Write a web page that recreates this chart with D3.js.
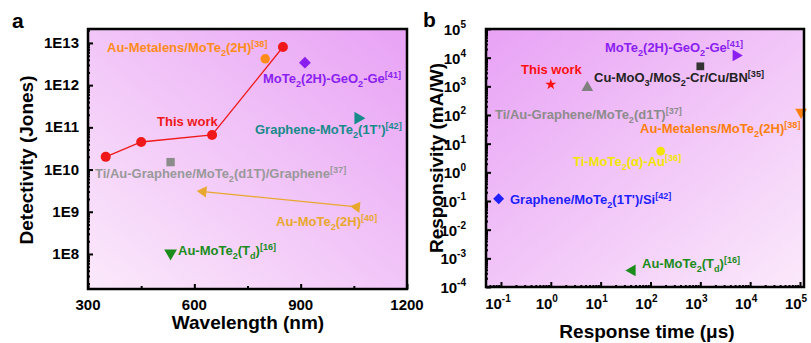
<!DOCTYPE html>
<html>
<head>
<meta charset="utf-8">
<script src="https://cdn.jsdelivr.net/npm/d3@7"></script>
<style>
  body { margin: 0; background: #fff; }
  text { font-family: 'Liberation Sans', Arial, sans-serif; font-weight: bold; }
</style>
</head>
<body>
<svg id="chart" width="811" height="343"></svg>
<script>
'use strict'

// ---- panel a data: detectivity vs wavelength ----
const thisWorkWavelength = [350, 450, 650, 850]
const thisWorkDetectivity = [2e10, 4.5e10, 6.6e10, 8e12]

const refsA = [
  { name: 'Au-Metalens/MoTe_{2}(2H)^{[38]}', wl: 800, det: 4.2e12 },
  { name: 'MoTe_{2}(2H)-GeO_{2}-Ge^{[41]}', wl: 912, det: 3.4e12 },
  { name: 'Graphene-MoTe_{2}(1T’)^{[42]}', wl: 1062, det: 1.65e11 },
  { name: 'Ti/Au-Graphene/MoTe_{2}(d1T)/Graphene^{[37]}', wl: 533, det: 1.5e10 },
  { name: 'Au-MoTe_{2}(T_{d})^{[16]}', wl: 533, det: 1.05e8 }
]
// Au-MoTe2(2H) range, drawn as an arrow
const au2hWavelength = [1058, 625]
const au2hDetectivity = [1.3e9, 3e9]
const au2hName = 'Au-MoTe_{2}(2H)^{[40]}'

const yTicksA = [1e8, 1e9, 1e10, 1e11, 1e12, 1e13]
const xTicksA = [300, 600, 900, 1200]

// ---- panel b data: responsivity vs response time ----
const refsB = [
  { name: 'This work', t: 1.0, r: 1.15e3 },
  { name: 'Ti/Au-Graphene/MoTe_{2}(d1T)^{[37]}', t: 5.4, r: 900 },
  { name: 'Cu-MoO_{3}/MoS_{2}-Cr/Cu/BN^{[35]}', t: 1000, r: 5000 },
  { name: 'MoTe_{2}(2H)-GeO_{2}-Ge^{[41]}', t: 5200, r: 1.2e4 },
  { name: 'Au-Metalens/MoTe_{2}(2H)^{[38]}', t: 1.05e5, r: 125 },
  { name: 'Ti-MoTe_{2}(α)-Au^{[36]}', t: 160, r: 5.5 },
  { name: 'Graphene/MoTe_{2}(1T\')/Si^{[42]}', t: 0.09, r: 0.12 },
  { name: 'Au-MoTe_{2}(T_{d})^{[16]}', t: 43, r: 3.8e-4 }
]
const xTicksB = [-1, 0, 1, 2, 3, 4, 5]
const yTicksB = [-4, -3, -2, -1, 0, 1, 2, 3, 4, 5]

// ---- styling / layout (kept apart from the data) ----
const styleA = [
  { sym: 'circle', rot: 0, color: '#ff8c1a', lx: 107, ly: 52 },
  { sym: 'diamond', rot: 45, color: '#8a1ff0', lx: 263, ly: 83 },
  { sym: 'triangle', rot: 90, color: '#178a8a', lx: 255, ly: 134 },
  { sym: 'square', rot: 0, color: '#8c8c8c', lx: 95, ly: 178, textColor: '#999' },
  { sym: 'triangle', rot: 180, color: '#1a8c1a', lx: 178, ly: 255 }
]
const styleB = [
  { sym: 'star', rot: 0, color: '#ff1010', lx: 521, ly: 74, size: 38 },
  { sym: 'triangle', rot: 0, color: '#808080', lx: 495, ly: 119, textColor: '#8c8c8c' },
  { sym: 'square', rot: 0, color: '#333', lx: 594, ly: 82, textColor: '#222' },
  { sym: 'triangle', rot: 90, color: '#8a1ff0', lx: 605, ly: 52 },
  { sym: 'triangle', rot: 180, color: '#ff7f0e', lx: 640, ly: 133 },
  { sym: 'circle', rot: 0, color: '#f2e600', lx: 573, ly: 166 },
  { sym: 'diamond', rot: 45, color: '#1f1fff', lx: 510, ly: 204 },
  { sym: 'triangle', rot: -90, color: '#1a8c1a', lx: 642, ly: 268 }
]
const symbols = {
  circle: d3.symbolCircle, square: d3.symbolSquare,
  diamond: d3.symbolSquare, triangle: d3.symbolTriangle, star: d3.symbolStar
}

const svg = d3.select('#chart')

// text with _{sub} and ^{sup} markup
function rich (sel, str, size) {
  const parts = str.split(/(_\{[^}]*\}|\^\{[^}]*\})/).filter(s => s)
  let shift = 0
  parts.forEach(p => {
    let off = 0, fs = size, t = p
    if (p[0] === '_') { t = p.slice(2, -1); off = size * 0.3; fs = size * 0.7 }
    else if (p[0] === '^') { t = p.slice(2, -1); off = -size * 0.4; fs = size * 0.7 }
    sel.append('tspan').attr('dy', off - shift).attr('font-size', fs).text(t)
    shift = off
  })
}

function panelBg (id, x0, y0, x1, y1, dark, light) {
  const g = svg.append('defs').append('linearGradient').attr('id', id)
    .attr('x1', x0).attr('y1', y0).attr('x2', x1).attr('y2', y1)
    .attr('gradientUnits', 'objectBoundingBox')
  g.append('stop').attr('offset', 0).attr('stop-color', dark)
  g.append('stop').attr('offset', 1).attr('stop-color', light)
}
panelBg('bgA', 1, 0, 0, 1, '#e8a2f5', '#fbe9fb')
panelBg('bgB', 0, 0, 1, 1, '#e8a2f5', '#fbe9fb')

function marker (g, x, y, st, size) {
  g.append('path')
    .attr('d', d3.symbol(symbols[st.sym], st.size || size)())
    .attr('transform', `translate(${x},${y}) rotate(${st.rot})`)
    .attr('fill', st.color)
}

// ================= panel a =================
const ax = d3.scaleLinear().domain([300, 1200]).range([88, 407])
const ay = d3.scaleLog().domain([Math.pow(10, 7.17), Math.pow(10, 13.33)]).range([289, 29])

const ga = svg.append('g')
ga.append('rect').attr('x', 88).attr('y', 29).attr('width', 319).attr('height', 260)
  .attr('fill', 'url(#bgA)')

// minor log ticks
const minorA = []
for (let e = 7; e <= 13; e++) for (let m = 2; m <= 9; m++) {
  const v = m * Math.pow(10, e)
  if (v > ay.domain()[0] && v < ay.domain()[1]) minorA.push(v)
}
ga.append('g').attr('transform', 'translate(88,0)')
  .call(d3.axisRight(ay).tickValues(minorA).tickSize(2).tickFormat(''))
  .call(g => g.select('.domain').remove())
ga.append('g').attr('transform', 'translate(88,0)')
  .call(d3.axisRight(ay).tickValues(yTicksA).tickSize(5).tickFormat(''))
  .call(g => g.select('.domain').remove())
ga.append('g').attr('transform', 'translate(0,289)')
  .call(d3.axisTop(ax).tickValues([450, 750, 1050]).tickSize(3).tickFormat(''))
  .call(g => g.select('.domain').remove())
ga.append('g').attr('transform', 'translate(0,289)')
  .call(d3.axisTop(ax).tickValues(xTicksA).tickSize(5).tickFormat(''))
  .call(g => g.select('.domain').remove())
ga.selectAll('.tick line').attr('stroke', '#000').attr('stroke-width', 2)

ga.selectAll('.ylab').data(yTicksA).enter().append('text')
  .attr('x', 79).attr('y', d => ay(d) + 5).attr('text-anchor', 'end')
  .attr('font-size', 15).text(d => '1E' + Math.round(Math.log10(d)))
ga.selectAll('.xlab').data(xTicksA).enter().append('text')
  .attr('x', d => ax(d)).attr('y', 310).attr('text-anchor', 'middle')
  .attr('font-size', 15).text(d => d)

// this work line
const ptsA = thisWorkWavelength.map((w, i) => [ax(w), ay(thisWorkDetectivity[i])])
ga.append('path').attr('d', d3.line()(ptsA)).attr('fill', 'none')
  .attr('stroke', '#f01818').attr('stroke-width', 1.3)
ga.selectAll('.tw').data(ptsA).enter().append('circle')
  .attr('cx', d => d[0]).attr('cy', d => d[1]).attr('r', 5).attr('fill', '#f01818')
ga.append('text').attr('x', 157).attr('y', 126).attr('fill', '#f01818')
  .attr('font-size', 13).text('This work')

// Au-MoTe2(2H) arrow
const arrPts = au2hWavelength.map((w, i) => [ax(w), ay(au2hDetectivity[i])])
ga.append('path').attr('d', d3.line()(arrPts)).attr('stroke', '#e8a82e')
  .attr('stroke-width', 1.3).attr('fill', 'none')
arrPts.forEach(p => {
  const ang = Math.atan2(arrPts[1][1] - arrPts[0][1], arrPts[1][0] - arrPts[0][0]) * 180 / Math.PI
  ga.append('path').attr('d', d3.symbol(d3.symbolTriangle, 55)())
    .attr('transform', `translate(${p[0]},${p[1]}) rotate(${ang + 90})`)
    .attr('fill', '#e8a82e')
})
ga.append('text').attr('x', 276).attr('y', 226).attr('fill', '#e8a82e')
  .attr('font-size', 13).call(s => rich(s, au2hName, 13))

refsA.forEach((d, i) => {
  const st = styleA[i]
  marker(ga, ax(d.wl), ay(d.det), st, 70)
  ga.append('text').attr('x', st.lx).attr('y', st.ly).attr('fill', st.textColor || st.color)
    .attr('font-size', 13).call(s => rich(s, d.name, 13))
})

ga.append('rect').attr('x', 88).attr('y', 29).attr('width', 319).attr('height', 260)
  .attr('fill', 'none').attr('stroke', '#000').attr('stroke-width', 2.5)

ga.append('text').attr('x', 12).attr('y', 28).attr('font-size', 21).text('a')
ga.append('text').attr('x', 248).attr('y', 329).attr('text-anchor', 'middle')
  .attr('font-size', 19).text('Wavelength (nm)')
ga.append('text').attr('transform', 'translate(33,160) rotate(-90)')
  .attr('text-anchor', 'middle').attr('font-size', 19).text('Detectivity (Jones)')

// ================= panel b =================
const bx = d3.scaleLog().domain([Math.pow(10, -1.3), Math.pow(10, 5.08)]).range([486, 804])
const by = d3.scaleLog().domain([1e-4, 1e5]).range([287, 29])

const gb = svg.append('g')
gb.append('rect').attr('x', 486).attr('y', 29).attr('width', 318).attr('height', 258)
  .attr('fill', 'url(#bgB)')

const minorBx = [], minorBy = []
for (let e = -2; e <= 5; e++) for (let m = 2; m <= 9; m++) {
  const v = m * Math.pow(10, e)
  if (v > bx.domain()[0] && v < bx.domain()[1]) minorBx.push(v)
}
for (let e = -4; e <= 4; e++) for (let m = 2; m <= 9; m++) minorBy.push(m * Math.pow(10, e))

gb.append('g').attr('transform', 'translate(486,0)')
  .call(d3.axisRight(by).tickValues(minorBy).tickSize(2).tickFormat(''))
  .call(g => g.select('.domain').remove())
gb.append('g').attr('transform', 'translate(486,0)')
  .call(d3.axisRight(by).tickValues(yTicksB.map(e => Math.pow(10, e))).tickSize(5).tickFormat(''))
  .call(g => g.select('.domain').remove())
gb.append('g').attr('transform', 'translate(0,287)')
  .call(d3.axisTop(bx).tickValues(minorBx).tickSize(2).tickFormat(''))
  .call(g => g.select('.domain').remove())
gb.append('g').attr('transform', 'translate(0,287)')
  .call(d3.axisTop(bx).tickValues(xTicksB.map(e => Math.pow(10, e))).tickSize(5).tickFormat(''))
  .call(g => g.select('.domain').remove())
gb.selectAll('.tick line').attr('stroke', '#000').attr('stroke-width', 2)

gb.selectAll('.ylab').data(yTicksB).enter().append('text')
  .attr('x', 466).attr('y', d => by(Math.pow(10, d)) + 6).attr('text-anchor', 'end')
  .attr('font-size', 15)
  .each(function (d) {
    const t = d3.select(this)
    t.append('tspan').text('10')
    t.append('tspan').attr('dy', -7).attr('font-size', 10).text(d)
  })
gb.selectAll('.xlab').data(xTicksB).enter().append('text')
  .attr('x', d => bx(Math.pow(10, d)) - (d < 0 ? 3 : 4)).attr('y', 309).attr('text-anchor', 'middle')
  .attr('font-size', 15)
  .each(function (d) {
    const t = d3.select(this)
    t.append('tspan').text('10')
    t.append('tspan').attr('dy', -7).attr('font-size', 10).text(d)
  })

refsB.forEach((d, i) => {
  const st = styleB[i]
  marker(gb, bx(d.t), by(d.r), st, 60)
  gb.append('text').attr('x', st.lx).attr('y', st.ly).attr('fill', st.textColor || st.color)
    .attr('font-size', 13).call(s => rich(s, d.name, 13))
})

gb.append('rect').attr('x', 486).attr('y', 29).attr('width', 318).attr('height', 258)
  .attr('fill', 'none').attr('stroke', '#000').attr('stroke-width', 2.5)

gb.append('text').attr('x', 423).attr('y', 27).attr('font-size', 21).text('b')
gb.append('text').attr('x', 647).attr('y', 338).attr('text-anchor', 'middle')
  .attr('font-size', 19).text('Response time (μs)')
gb.append('text').attr('transform', 'translate(443,158) rotate(-90)')
  .attr('text-anchor', 'middle').attr('font-size', 19).text('Responsivity (mA/W)')
</script>
</body>
</html>
